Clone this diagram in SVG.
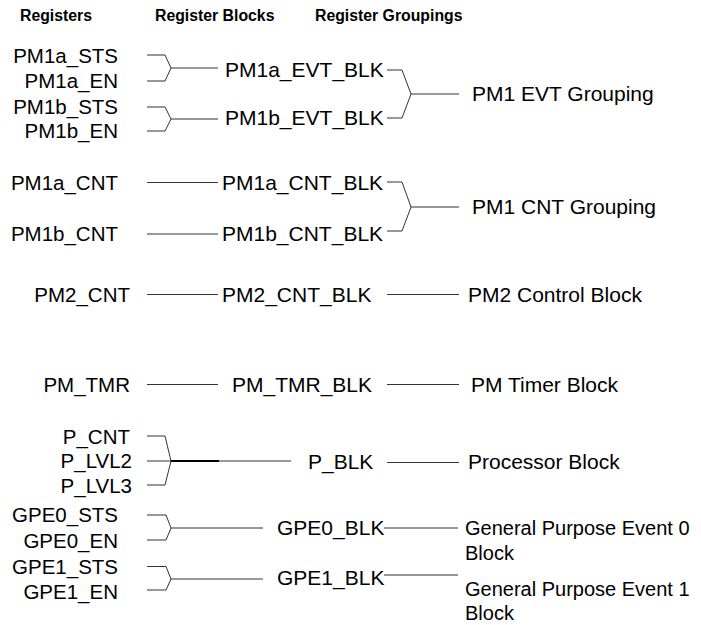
<svg xmlns="http://www.w3.org/2000/svg" width="701" height="625" viewBox="0 0 701 625">
<style>
text{font-family:"Liberation Sans",Arial,sans-serif;font-size:21px;fill:#000}
.h{font-weight:bold;font-size:17px}
.r{text-anchor:end;font-size:20.5px}
.g{font-size:20px}
.c path{stroke:#333;stroke-width:1;fill:none}
.c .thick{stroke:#000;stroke-width:2}
</style>
<rect width="701" height="625" fill="#fff"/>
<g id="headers">
<text class="h" transform="translate(20,20.5) scale(0.93,1)">Registers</text>
<text class="h" transform="translate(155,20.5) scale(0.93,1)">Register Blocks</text>
<text class="h" transform="translate(315,20.5) scale(0.93,1)">Register Groupings</text>
</g>
<g id="registers">
<text class="r" x="118" y="62.5">PM1a_STS</text>
<text class="r" x="118" y="88">PM1a_EN</text>
<text class="r" x="118" y="114">PM1b_STS</text>
<text class="r" x="118" y="138">PM1b_EN</text>
<text class="r" x="118" y="189.5">PM1a_CNT</text>
<text class="r" x="118" y="241">PM1b_CNT</text>
<text class="r" x="130" y="302">PM2_CNT</text>
<text class="r" x="130" y="391.5">PM_TMR</text>
<text class="r" x="130" y="444">P_CNT</text>
<text class="r" x="132" y="468">P_LVL2</text>
<text class="r" x="132" y="493">P_LVL3</text>
<text class="r" x="118" y="522">GPE0_STS</text>
<text class="r" x="118" y="548">GPE0_EN</text>
<text class="r" x="118" y="573.5">GPE1_STS</text>
<text class="r" x="118" y="599">GPE1_EN</text>
</g>
<g id="blocks">
<text x="225" y="77">PM1a_EVT_BLK</text>
<text x="225" y="125">PM1b_EVT_BLK</text>
<text x="222" y="189.5">PM1a_CNT_BLK</text>
<text x="222" y="241">PM1b_CNT_BLK</text>
<text x="222" y="302">PM2_CNT_BLK</text>
<text x="232" y="391.5">PM_TMR_BLK</text>
<text x="308" y="468.5">P_BLK</text>
<text x="277" y="535">GPE0_BLK</text>
<text x="277" y="585">GPE1_BLK</text>
</g>
<g id="groupings">
<text x="472" y="101">PM1 EVT Grouping</text>
<text x="472" y="214">PM1 CNT Grouping</text>
<text x="468" y="302">PM2 Control Block</text>
<text x="471" y="391.5">PM Timer Block</text>
<text x="468" y="468.5">Processor Block</text>
<text class="g" x="465" y="535">General Purpose Event 0</text>
<text class="g" x="465" y="560">Block</text>
<text class="g" x="465" y="596">General Purpose Event 1</text>
<text class="g" x="465" y="620">Block</text>
</g>
<g id="connectors" class="c">
<path d="M147,55 H165 L171,68 L165,81 H147"/>
<path d="M171,68 H218"/>
<path d="M147,107 H165 L171,119 L165,131 H147"/>
<path d="M171,119 H218"/>
<path d="M387,70 H402 L411,94 L402,118 H387"/>
<path d="M411,94 H459"/>
<path d="M147,182.5 H218"/>
<path d="M147,234 H218"/>
<path d="M387,182 H402 L411,207 L402,231 H387"/>
<path d="M411,207 H459"/>
<path d="M147,294.5 H218"/>
<path d="M387,294.5 H459"/>
<path d="M147,384.5 H218"/>
<path d="M387,384.5 H459"/>
<path d="M147,436 H165 L171,461 L165,485 H147"/>
<path d="M147,461 H291"/>
<path class="thick" d="M171,461 H219"/>
<path d="M387,462.5 H459"/>
<path d="M147,515 H166 L171,528 L166,540 H147"/>
<path d="M171,528 H263"/>
<path d="M147,566.5 H166 L171,579 L166,590 H147"/>
<path d="M171,579 H263"/>
<path d="M384,528 H458"/>
<path d="M384,575 H458"/>
</g>
</svg>
